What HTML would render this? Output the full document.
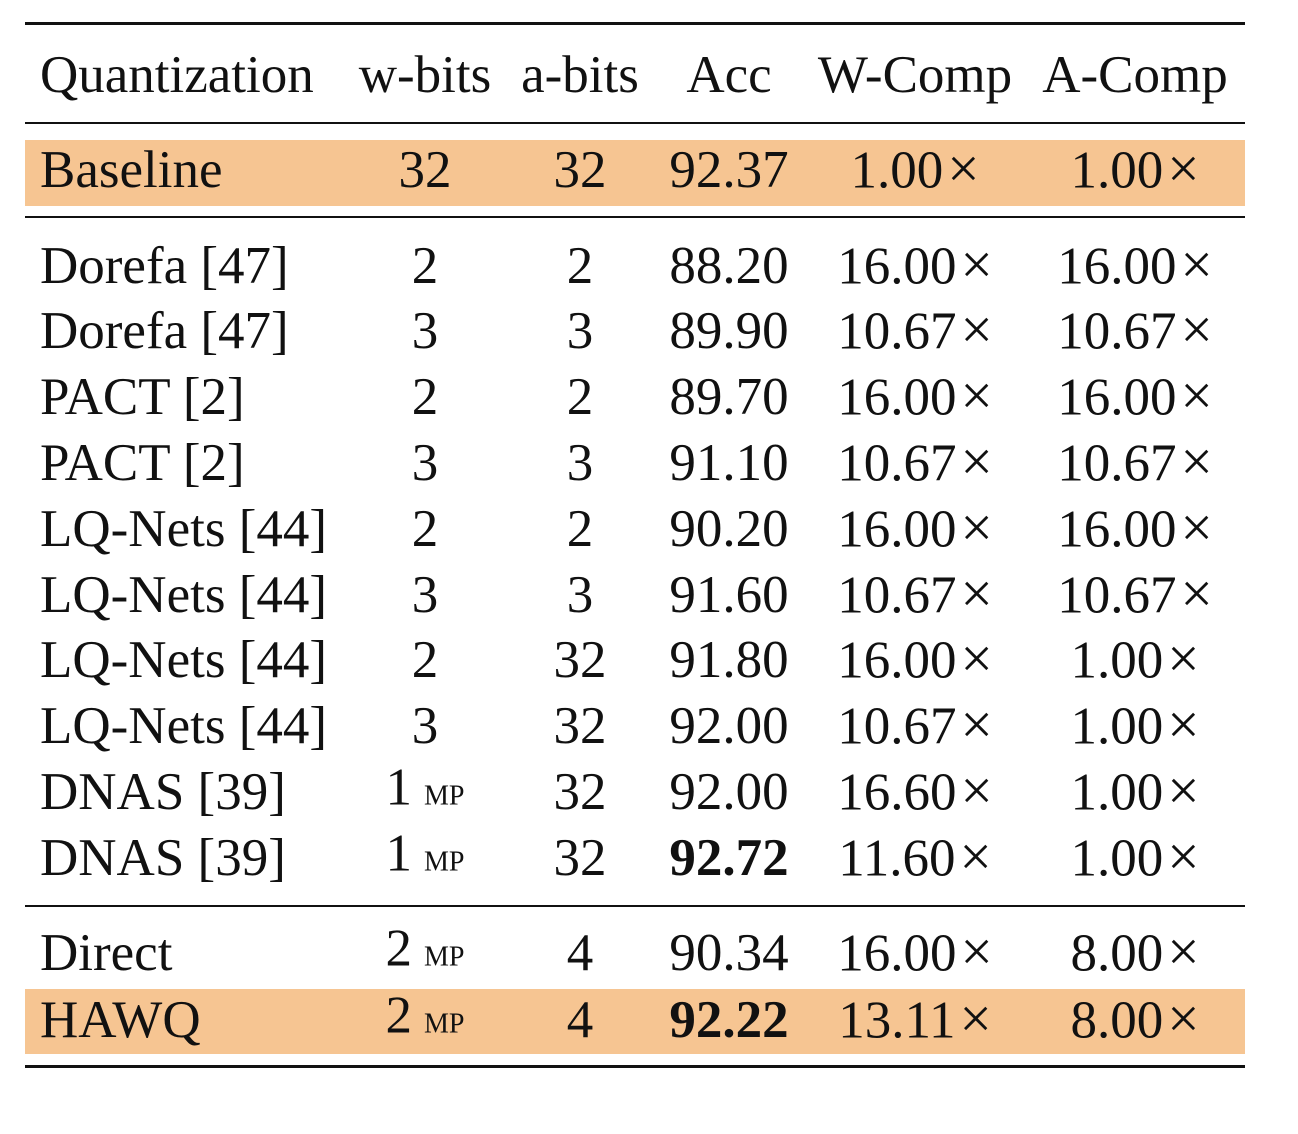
<!DOCTYPE html>
<html><head><meta charset="utf-8"><style>
body{margin:0;width:1298px;height:1134px;background:#fff;position:relative;font-family:"Liberation Serif",serif;color:#111;overflow:hidden}
.rule{position:absolute;left:25px;width:1220px;background:#111}
.hl{position:absolute;left:25px;width:1220px;background:#f6c592}
.t{position:absolute;font-size:53px;line-height:60px;white-space:nowrap;transform:translate(-50%,-50%)}
.l{transform:translate(0,-50%)}
.mp{font-size:28px;margin-left:12px}
.x{margin-left:4px;font-size:1.08em}
b{font-weight:bold}
</style></head><body>
<div class="rule" style="top:22px;height:3px"></div>
<div class="rule" style="top:122px;height:2px"></div>
<div class="hl" style="top:140px;height:66px"></div>
<div class="rule" style="top:216px;height:2px"></div>
<div class="rule" style="top:905px;height:2px"></div>
<div class="hl" style="top:989px;height:65px"></div>
<div class="rule" style="top:1065px;height:3px"></div>
<div id="tbl"></div>
<script>
const cols=[40,425,580,729,915,1135];
const header=["Quantization","w-bits","a-bits","Acc","W-Comp","A-Comp"];
const rows=[
["Baseline","32","32","92.37","1.00×","1.00×",170],
["Dorefa [47]","2","2","88.20","16.00×","16.00×",266],
["Dorefa [47]","3","3","89.90","10.67×","10.67×",331],
["PACT [2]","2","2","89.70","16.00×","16.00×",397],
["PACT [2]","3","3","91.10","10.67×","10.67×",463],
["LQ-Nets [44]","2","2","90.20","16.00×","16.00×",529],
["LQ-Nets [44]","3","3","91.60","10.67×","10.67×",595],
["LQ-Nets [44]","2","32","91.80","16.00×","1.00×",660],
["LQ-Nets [44]","3","32","92.00","10.67×","1.00×",726],
["DNAS [39]","1 MP","32","92.00","16.60×","1.00×",792],
["DNAS [39]","1 MP","32","*92.72","11.60×","1.00×",858],
["Direct","2 MP","4","90.34","16.00×","8.00×",953],
["HAWQ","2 MP","4","*92.22","13.11×","8.00×",1020]];
const tbl=document.getElementById('tbl');
function cell(txt,ci,y,name){
  const d=document.createElement('div');
  
  
  d.className='t'+(ci===0?' l':'');
  d.style.left=cols[ci]+'px';d.style.top=y+'px';
  if(txt.startsWith('*')){d.innerHTML='<b>'+txt.slice(1)+'</b>';}
  else if(txt.endsWith(' MP')){d.innerHTML=txt.split(' ')[0]+'<span class="mp">MP</span>';}
  else if(txt.endsWith('×')){d.innerHTML=txt.slice(0,-1)+'<span class="x">×</span>';}
  else d.textContent=txt;
  tbl.appendChild(d);
}
header.forEach((h,i)=>cell(h,i,75,'header-'+h.toLowerCase()));
rows.forEach((r,ri)=>{for(let i=0;i<6;i++)cell(r[i],i,r[6],'row'+ri+'-'+header[i].toLowerCase());});
</script>
</body></html>
